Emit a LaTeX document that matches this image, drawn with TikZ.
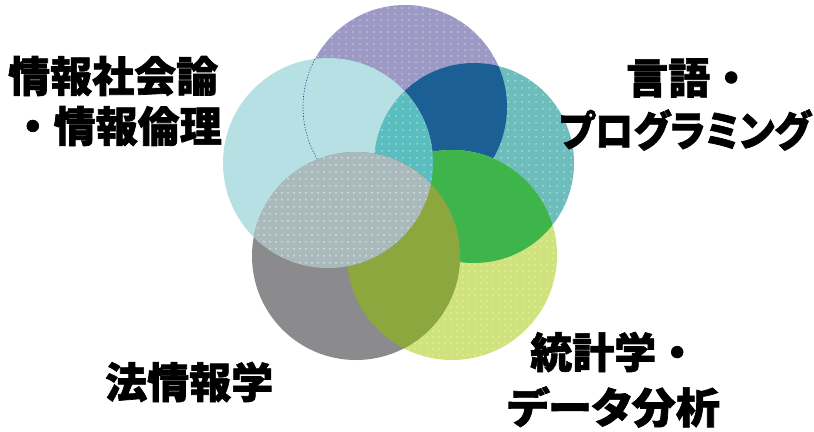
\documentclass[tikz,border=0pt]{standalone}
\usepackage{fontspec}
\newfontfamily\jp{Noto Sans CJK JP}[BoldFeatures={FakeBold=1.6}]
\newfontfamily\jpp{Noto Sans CJK JP}[RawFeature=+palt,BoldFeatures={FakeBold=1.6}]
\usetikzlibrary{patterns.meta}
\definecolor{cpurple}{HTML}{9C99C4}
\definecolor{ccyan}{HTML}{B7E0E4}
\definecolor{cteal}{HTML}{6CBDBC}
\definecolor{cdblue}{HTML}{1B5F95}
\definecolor{ctc}{HTML}{5ABDBF}
\definecolor{cygreen}{HTML}{CFE27C}
\definecolor{cbgreen}{HTML}{3DB54A}
\definecolor{cgray}{HTML}{8B8B8E}
\definecolor{clgray}{HTML}{A9B9BC}
\definecolor{colive}{HTML}{8BA73D}
\definecolor{cnavy}{HTML}{2A3A78}
\tikzset{
  dotfill/.style={pattern={Dots[distance=6.5pt,radius=0.8pt]},pattern color=white},
  lbl/.style={inner sep=0pt,text=black,font={\jp\bfseries\fontsize{42bp}{48bp}\selectfont}},
  lblp/.style={inner sep=0pt,text=black,font={\jpp\bfseries\fontsize{42bp}{48bp}\selectfont}}
}
\def\rP{102bp}
\def\rC{105bp}
\def\rT{100bp}
\def\rG{105bp}
\def\rY{104bp}
\begin{document}
\begin{tikzpicture}[x=1bp,y=-1bp]
\useasboundingbox (0,0) rectangle (814,431);
\fill[white] (0,0) rectangle (814,431);
\coordinate (P) at (405,107);
\coordinate (C) at (328,163);
\coordinate (T) at (474,163);
\coordinate (G) at (452,255);
\coordinate (Y) at (356,256);
% purple
\fill[cpurple] (P) circle[radius=\rP];
\fill[dotfill] (P) circle[radius=\rP];
% teal
\fill[cteal] (T) circle[radius=\rT];
\fill[dotfill] (T) circle[radius=\rT];
% purple & teal
\begin{scope}
  \clip (P) circle[radius=\rP];
  \fill[cdblue] (T) circle[radius=\rT];
\end{scope}
% cyan
\fill[ccyan] (C) circle[radius=\rC];
\begin{scope}
  \clip (C) circle[radius=\rC];
  \draw[cnavy,line width=0.6pt,dash pattern=on 1.2pt off 1.6pt] (P) circle[radius=\rP];
  \fill[ctc] (T) circle[radius=\rT];
  \fill[dotfill] (T) circle[radius=\rT];
\end{scope}
% green
\fill[cygreen] (G) circle[radius=\rG];
\fill[dotfill] (G) circle[radius=\rG];
\begin{scope}
  \clip (T) circle[radius=\rT];
  \fill[cbgreen] (G) circle[radius=\rG];
  \clip (C) circle[radius=\rC];
  \fill[ctc] (G) circle[radius=\rG];
  \fill[dotfill] (G) circle[radius=\rG];
\end{scope}
% gray
\fill[cgray] (Y) circle[radius=\rY];
\begin{scope}
  \clip (Y) circle[radius=\rY];
  \fill[colive] (G) circle[radius=\rG];
  \fill[clgray] (C) circle[radius=\rC];
  \fill[dotfill] (C) circle[radius=\rC];
\end{scope}
% labels
\node[lbl,anchor=west] (t1) at (8,76) {情報社会論};
\node[lbl,anchor=east] (t2) at (222,126) {・情報倫理};
\node[lbl,anchor=west] (t3) at (626,78) {言語・};
\node[lblp,anchor=east,xscale=0.915] (t4) at (811,130) {プログラミング};
\node[lbl,anchor=west] (t5) at (105,382) {法情報学};
\node[lbl,anchor=west] (t6) at (530,352) {統計学・};
\node[lblp,anchor=west,xscale=1.05] (t7) at (507,407) {データ分析};
\end{tikzpicture}
\end{document}
